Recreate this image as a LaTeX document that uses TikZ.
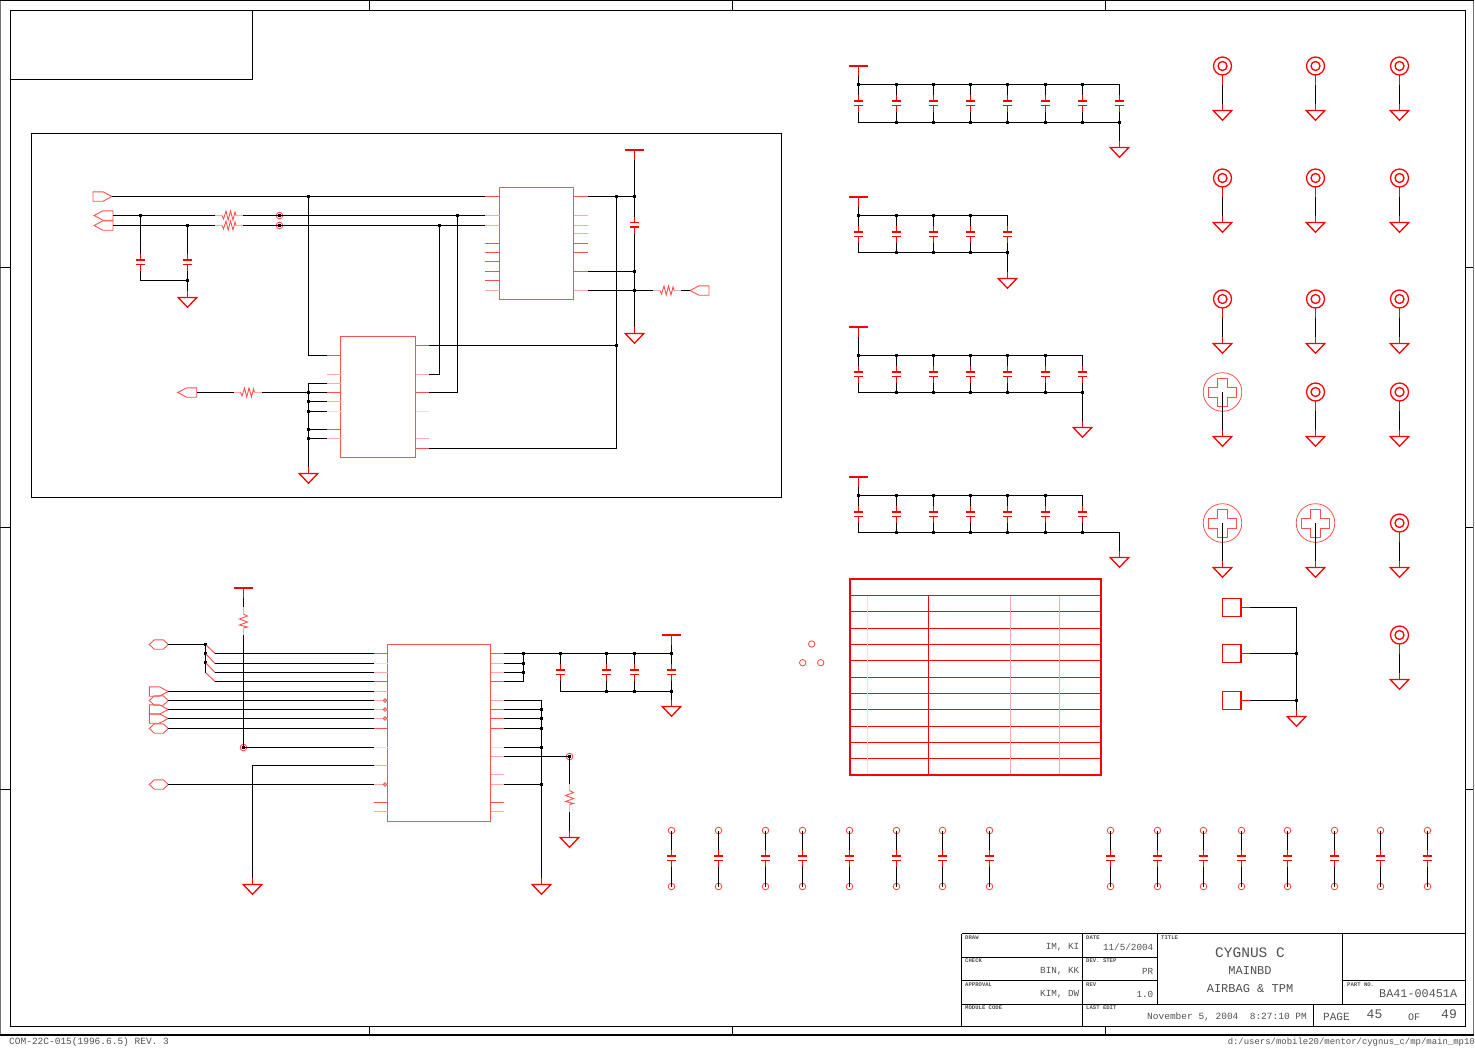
\documentclass[tikz,border=0pt]{standalone}
\usepackage{fontspec}
\setmonofont{Liberation Mono}
\definecolor{symred}{HTML}{FF0000}
\definecolor{pa}{HTML}{FF5050}
\definecolor{pb}{HTML}{FFA8A8}
\definecolor{pc}{HTML}{FFDCDC}
\definecolor{txt}{HTML}{505050}
\tikzset{
  wire/.style={black,line width=1pt},
  frameline/.style={black,line width=1pt},
  redw/.style={symred,line width=1pt},
  gsym/.style={symred,line width=1.3pt,line join=miter},
  plate/.style={symred,line width=1pt},
  plateb/.style={symred,line width=2pt},
  zig/.style={pa,line width=0.9pt},
  ic/.style={draw=pa,line width=1pt,inner sep=0pt,fill=none},
  portl/.style={pa,line width=0.9pt},
  lab/.style={font=\ttfamily\fontsize{#1}{#1}\selectfont,text=txt,inner sep=0pt},
  cell/.style={black,line width=0.8pt},
  tiny/.style={font=\ttfamily\bfseries\fontsize{5.6}{5.6}\selectfont,text=txt,inner sep=0pt,anchor=west},
  tblthin/.style={symred,line width=1pt},
}
\newcommand{\GndAt}[3]{\coordinate (#1) at (#2,#3-7);
  \draw[redw] (#2,#3-7)--(#2,#3);
  \draw[gsym] (#2-9.3,#3)--(#2+9.3,#3)--(#2,#3+9.8)--cycle;}
\newcommand{\PowAt}[3]{\coordinate (#1) at (#2,#3+10);
  \draw[plateb] (#2-9.5,#3)--(#2+9.5,#3);
  \draw[redw] (#2,#3)--(#2,#3+10);}
% capacitor, heavy plate on top
\newcommand{\CapV}[3]{\coordinate (#1-t) at (#2,#3-8.5); \coordinate (#1-b) at (#2,#3+8.5);
  \draw[redw] (#2,#3-8.5)--(#2,#3-2) (#2,#3+2.5)--(#2,#3+8.5);
  \draw[plateb] (#2-4.5,#3-2)--(#2+4.5,#3-2);
  \draw[plate] (#2-4.5,#3+2.5)--(#2+4.5,#3+2.5);}
% capacitor, heavy plate below
\newcommand{\CapVf}[3]{\coordinate (#1-t) at (#2,#3-8.5); \coordinate (#1-b) at (#2,#3+8.5);
  \draw[redw] (#2,#3-8.5)--(#2,#3-2) (#2,#3+2)--(#2,#3+8.5);
  \draw[plate] (#2-4.5,#3-2.5)--(#2+4.5,#3-2.5);
  \draw[plateb] (#2-4.5,#3+2)--(#2+4.5,#3+2);}
\newcommand{\ResH}[3]{\coordinate (#1-l) at (#2,#3); \coordinate (#1-r) at (#2+28,#3);
  \draw[pb,line width=1pt] (#2,#3)--(#2+7,#3) (#2+21,#3)--(#2+28,#3);
  \draw[zig] (#2+7,#3)--(#2+8.5,#3+3.5)--(#2+11,#3-4.5)--(#2+13.2,#3+4.5)--(#2+15.5,#3-4.5)--(#2+18,#3+4.5)--(#2+20,#3-3.5)--(#2+21,#3);}
\newcommand{\ResV}[3]{\coordinate (#1-t) at (#2,#3); \coordinate (#1-b) at (#2,#3+28);
  \draw[pb,line width=1pt] (#2,#3)--(#2,#3+7) (#2,#3+21)--(#2,#3+28);
  \draw[zig] (#2,#3+7)--(#2+4,#3+9)--(#2-4,#3+12)--(#2+4,#3+15)--(#2-4,#3+18)--(#2+4,#3+20)--(#2,#3+21);}
\newcommand{\Jn}[3]{\coordinate (#1) at (#2,#3); \fill[black] (#2-1.5,#3-1.5) rectangle (#2+1.5,#3+1.5);}
\newcommand{\RingAt}[3]{\coordinate (#1) at (#2,#3); \draw[pa,line width=0.9pt] (#2,#3) circle [radius=3.3pt];}
\newcommand{\PortR}[3]{\coordinate (#1-a) at (#2+19,#3); \coordinate (#1-b) at (#2,#3);
  \draw[portl] (#2,#3-4.7)--(#2+10,#3-4.7)--(#2+19,#3)--(#2+10,#3+4.7)--(#2,#3+4.7)--cycle;}
\newcommand{\PortL}[3]{\coordinate (#1-a) at (#2,#3); \coordinate (#1-b) at (#2+19,#3);
  \draw[portl] (#2,#3)--(#2+9,#3-4.7)--(#2+19,#3-4.7)--(#2+19,#3+4.7)--(#2+9,#3+4.7)--cycle;}
\newcommand{\PortH}[3]{\coordinate (#1-a) at (#2+19,#3); \coordinate (#1-b) at (#2,#3);
  \draw[portl] (#2,#3)--(#2+5,#3-4.7)--(#2+14,#3-4.7)--(#2+19,#3)--(#2+14,#3+4.7)--(#2+5,#3+4.7)--cycle;}
\newcommand{\HoleAt}[4]{\draw[symred,line width=1.3pt] (#2,#3) circle [radius=9pt] (#2,#3) circle [radius=4.5pt];
  \draw[redw] (#2,#3+9)--(#2,#3+19);
  \GndAt{#1g}{#2}{#4}
  \coordinate (#1s) at (#2,#3+19);
  \draw[wire] (#1s)--(#1g);}
\newcommand{\ScrewAt}[4]{\coordinate (#1c) at (#2,#3);
  \draw[pa,line width=0.8pt] (#2,#3) circle [radius=19.3pt];
  \draw[pa,line width=0.9pt] (#2-5,#3-14)--(#2+5,#3-14)--(#2+5,#3-5)--(#2+14,#3-5)--(#2+14,#3+5)--(#2+5,#3+5)--(#2+5,#3+14)--(#2-5,#3+14)--(#2-5,#3+5)--(#2-14,#3+5)--(#2-14,#3-5)--(#2-5,#3-5)--cycle;
  \GndAt{#1g}{#2}{#4}
  \draw[wire] (#1c)--(#1g);}
\begin{document}
\begin{tikzpicture}[x=1pt,y=-1pt]
\useasboundingbox (0,0) rectangle (1475,1047);
% ---------- sheet frame
\draw[frameline] (10.5,10.5) rectangle (1465.5,1026.5);
\draw[black!55,line width=1pt] (0.5,0.5)--(0.5,1035);
\draw[black!55,line width=1pt] (1473.5,0.5)--(1473.5,1035);
\draw[black,line width=1pt] (0,0.5)--(1474,0.5);
\draw[black,line width=2pt] (0,1035)--(1474,1035);
\foreach \x in {369.5,732.5,1105.5} \draw[frameline] (\x,0)--(\x,10) (\x,1026)--(\x,1035);
\foreach \y in {267.5,527.5,789.5} \draw[frameline] (0,\y)--(10,\y) (1465,\y)--(1473,\y);
\draw[frameline] (11,10.5)--(252.5,10.5)--(252.5,79.5)--(11,79.5);
\draw[frameline] (31.5,133.5) rectangle (781.5,497.5);
% ---------- U1
\node[ic,minimum width=74pt,minimum height=112pt] (U1) at (536.5,243.5) {};
\foreach \i/\y/\c in {1/196.5/pa,2/215.5/pb,3/225.5/pb,4/243.5/pa,5/252.5/pa,6/261.5/pa,7/271.5/pa,8/280.5/pa,9/290.5/pb}{
  \coordinate (u1l\i) at (485,\y); \draw[color=\c,line width=1pt] (485,\y)--(499.5,\y);}
\foreach \i/\y/\c in {1/196.5/pa,2/215.5/pb,3/225.5/pb,4/233.5/pb,5/243.5/pa,6/252.5/pa,7/271.5/pa,8/290.5/pb}{
  \coordinate (u1r\i) at (588,\y); \draw[color=\c,line width=1pt] (573.5,\y)--(588,\y);}
% ---------- U2
\node[ic,minimum width=75pt,minimum height=121pt] (U2) at (378,397) {};
\foreach \i/\y/\c in {1/355.5/pa,2/374.5/pb,3/383.5/pb,4/392.5/pa,5/401.5/pb,6/411.5/pc,7/429.5/pa,8/438.5/pb}{
  \coordinate (u2l\i) at (327,\y); \draw[color=\c,line width=1pt] (327,\y)--(340.5,\y);}
\foreach \i/\y/\c in {1/345.5/pa,2/374.5/pb,3/392.5/pa,4/411.5/pc,5/438.5/pb,6/448.5/pa}{
  \coordinate (u2r\i) at (429,\y); \draw[color=\c,line width=1pt] (415.5,\y)--(429,\y);}
% ---------- first circuit
\PortR{p1}{93}{196.5}
\PortL{p2}{94}{215.5}
\PortL{p3}{94}{225.5}
\ResH{r1}{215}{215.5}
\ResH{r2}{215}{225.5}
\CapV{c1}{140.5}{262}
\CapV{c2}{187.5}{262}
\GndAt{g1}{187.5}{297.5}
\RingAt{v1}{279.5}{215.5}
\RingAt{v2}{279.5}{225.5}
\Jn{j1a}{140.5}{215.5}
\Jn{j1b}{187.5}{225.5}
\Jn{j1f}{187.5}{280.5}
\Jn{j1e}{308.5}{196.5}
\Jn{j1g}{279.5}{215.5}
\Jn{j1h}{279.5}{225.5}
\draw[wire] (p1-a)--(u1l1);
\draw[wire] (p2-b)--(r1-l) (r1-r)--(u1l2);
\draw[wire] (p3-b)--(r2-l) (r2-r)--(u1l3);
\draw[wire] (j1a)--(c1-t) (c1-b)|-(j1f);
\draw[wire] (j1b)--(c2-t) (c2-b)--(j1f)--(g1);
\draw[wire] (j1e)|-(u2l1);
\Jn{j2a}{616.5}{196.5}
\Jn{j2b}{634.5}{196.5}
\Jn{j2c}{634.5}{271.5}
\Jn{j2d}{634.5}{290.5}
\Jn{j2e}{616.5}{345.5}
\coordinate (j2f) at (616.5,448.5);
\PowAt{pw1}{634.5}{150}
\CapVf{c3}{634.5}{225}
\GndAt{g2}{634.5}{333.5}
\ResH{r3}{653}{290.5}
\PortL{p4}{690}{290.5}
\draw[wire] (u1r1)--(j2a)--(j2b);
\draw[wire] (pw1)--(j2b)--(c3-t) (c3-b)--(j2c)--(j2d)--(g2);
\draw[wire] (u1r7)--(j2c);
\draw[wire] (u1r8)--(j2d)--(r3-l) (r3-r)--(p4-a);
\draw[wire] (j2a)--(j2e)--(j2f)--(u2r6);
\draw[wire] (u2r1)--(j2e);
\Jn{j3a}{439.5}{225.5}
\Jn{j3b}{457.5}{215.5}
\draw[wire] (j3a)|-(u2r2);
\draw[wire] (j3b)|-(u2r3);
\coordinate (j4a) at (308.5,383.5);
\Jn{j4b}{308.5}{392.5}
\Jn{j4c}{308.5}{401.5}
\Jn{j4d}{308.5}{411.5}
\Jn{j4e}{308.5}{429.5}
\Jn{j4f}{308.5}{438.5}
\GndAt{g3}{308.5}{473.5}
\PortL{p5}{177.7}{392.5}
\ResH{r4}{233.5}{392.5}
\draw[wire] (u2l3)--(j4a)--(g3);
\draw[wire] (p5-b)--(r4-l) (r4-r)--(u2l4);
\draw[wire] (j4c)--(u2l5) (j4d)--(u2l6) (j4e)--(u2l7) (j4f)--(u2l8);
% ---------- U3
\node[ic,minimum width=103pt,minimum height=177pt] (U3) at (439,733) {};
\foreach \i/\y/\c in {1/653.5/pa,2/663.5/pc,3/672.5/pb,4/681.5/pa,5/691.5/pb,6/700.5/pb,7/709.5/pb,8/718.5/pb,9/728.5/pa,10/747.5/pc,11/765.5/pb,12/784.5/pb,13/802.5/pa,14/811.5/pb}{
  \coordinate (u3l\i) at (374,\y); \draw[color=\c,line width=1pt] (374,\y)--(387.5,\y);}
\foreach \i/\y/\c in {1/653.5/pa,2/663.5/pb,3/672.5/pb,4/681.5/pa,5/700.5/pb,6/709.5/pa,7/718.5/pa,8/728.5/pa,9/747.5/pc,10/756.5/pb,11/774.5/pb,12/784.5/pb,13/802.5/pa,14/811.5/pb}{
  \coordinate (u3r\i) at (504,\y); \draw[color=\c,line width=1pt] (490.5,\y)--(504,\y);}
\foreach \y in {700.5,709.5,718.5,784.5} \draw[pa,line width=0.8pt] (385,\y) circle [radius=1.8pt];
\PortH{p6}{149.3}{644.5}
\PortR{p7}{149.3}{691.5}
\PortH{p8}{149.3}{700.5}
\PortR{p9}{149.3}{709.5}
\PortR{p10}{149.3}{718.5}
\PortH{p11}{149.3}{728.5}
\PortH{p12}{149.3}{784.5}
\Jn{j5a}{205.5}{644.5}
\Jn{j5b}{205.5}{653.5}
\Jn{j5c}{205.5}{662.5}
\coordinate (j5d) at (205.5,672.5);
\foreach \n/\y in {1/653.5,2/663.5,3/672.5,4/681.5} \coordinate (k\n) at (215,\y);
\draw[pa,line width=1pt] (j5a)--(k1) (j5b)--(k2) (j5c)--(k3) (j5d)--(k4);
\draw[wire] (p6-a)--(j5a)--(j5b)--(j5c)--(j5d);
\draw[wire] (k1)--(u3l1) (k2)--(u3l2) (k3)--(u3l3) (k4)--(u3l4);
\draw[wire] (p7-a)--(u3l5) (p8-a)--(u3l6) (p9-a)--(u3l7) (p10-a)--(u3l8) (p11-a)--(u3l9);
\PowAt{pw2}{243.5}{588}
\ResV{r5}{243.5}{607}
\RingAt{v3}{243.5}{747.5}
\Jn{j6a}{243.5}{747.5}
\draw[wire] (pw2)--(r5-t) (r5-b)--(j6a)--(u3l10);
\GndAt{g4}{252.5}{884.5}
\draw[wire] (u3l11)-|(g4);
\draw[wire] (p12-a)--(u3l12);
% right side of U3
\Jn{j7a}{523.5}{653.5}
\Jn{j7b}{523.5}{663.5}
\Jn{j7c}{523.5}{672.5}
\coordinate (j7d) at (523.5,681.5);
\draw[wire] (u3r2)--(j7b) (u3r3)--(j7c) (u3r4)--(j7d)--(j7a);
\foreach \n/\x in {1/560.5,2/606.5,3/634.5,4/671.5}{
  \Jn{j8t\n}{\x}{653.5}
  \CapV{c4\n}{\x}{672}
  \draw[wire] (j8t\n)--(c4\n-t);
}
\foreach \n/\x in {2/606.5,3/634.5,4/671.5} \Jn{j8b\n}{\x}{691.5};
\coordinate (j8b1) at (560.5,691.5);
\draw[wire] (u3r1)--(j7a)--(j8t1)--(j8t2)--(j8t3)--(j8t4);
\foreach \n in {1,2,3,4} \draw[wire] (c4\n-b)--(j8b\n);
\draw[wire] (j8b1)--(j8b2)--(j8b3)--(j8b4);
\PowAt{pw3}{671.5}{634.5}
\draw[wire] (pw3)--(j8t4);
\GndAt{g5}{671.5}{706.5}
\draw[wire] (j8b4)--(g5);
\coordinate (j9a) at (541.5,700.5);
\foreach \n/\y in {b/709.5,c/718.5,d/728.5,e/747.5,f/784.5} \Jn{j9\n}{541.5}{\y};
\GndAt{g6}{541.5}{884.5}
\draw[wire] (u3r5)--(j9a)--(g6);
\draw[wire] (u3r6)--(j9b) (u3r7)--(j9c) (u3r8)--(j9d) (u3r9)--(j9e) (u3r12)--(j9f);
\RingAt{v4}{569.5}{756.5}
\Jn{j9g}{569.5}{756.5}
\ResV{r6}{569.5}{783.5}
\GndAt{g7}{569.5}{837.5}
\draw[wire] (u3r10)--(j9g)--(r6-t) (r6-b)--(g7);
% ---------- capacitor banks
\PowAt{pw4}{858.5}{66}
\foreach \n/\x in {1/858.5,2/896.5,3/933.5,4/970.5,5/1007.5,6/1045.5,7/1082.5,8/1119.5}{
  \coordinate (a\n) at (\x,84.5); \coordinate (b\n) at (\x,122.5);
  \CapV{ca\n}{\x}{103}
  \draw[wire] (a\n)--(ca\n-t) (ca\n-b)--(b\n);}
\foreach \p in {a1,a2,a3,a4,a5,a6,a7,b2,b3,b4,b5,b6,b7,b8} \fill[black] (\p) +(-1.5,-1.5) rectangle +(1.5,1.5);
\draw[wire] (pw4)--(a1)--(a8) (b1)--(b8);
\GndAt{g8}{1119.5}{147.5}
\draw[wire] (b8)--(g8);
\PowAt{pw5}{858.5}{197}
\foreach \n/\x in {1/858.5,2/896.5,3/933.5,4/970.5,5/1007.5}{
  \coordinate (d\n) at (\x,215.5); \coordinate (e\n) at (\x,252.5);
  \CapV{cb\n}{\x}{234}
  \draw[wire] (d\n)--(cb\n-t) (cb\n-b)--(e\n);}
\foreach \p in {d1,d2,d3,d4,e2,e3,e4,e5} \fill[black] (\p) +(-1.5,-1.5) rectangle +(1.5,1.5);
\draw[wire] (pw5)--(d1)--(d5) (e1)--(e5);
\GndAt{g9}{1007.5}{278.5}
\draw[wire] (e5)--(g9);
\PowAt{pw6}{858.5}{327}
\foreach \n/\x in {1/858.5,2/896.5,3/933.5,4/970.5,5/1007.5,6/1045.5,7/1082.5}{
  \coordinate (f\n) at (\x,355.5); \coordinate (h\n) at (\x,392.5);
  \CapV{cc\n}{\x}{374}
  \draw[wire] (f\n)--(cc\n-t) (cc\n-b)--(h\n);}
\foreach \p in {f1,f2,f3,f4,f5,f6,h2,h3,h4,h5,h6,h7} \fill[black] (\p) +(-1.5,-1.5) rectangle +(1.5,1.5);
\draw[wire] (pw6)--(f1)--(f7) (h1)--(h7);
\GndAt{g10}{1082.5}{427.5}
\draw[wire] (h7)--(g10);
\PowAt{pw7}{858.5}{477}
\foreach \n/\x in {1/858.5,2/896.5,3/933.5,4/970.5,5/1007.5,6/1045.5,7/1082.5}{
  \coordinate (m\n) at (\x,495.5); \coordinate (q\n) at (\x,532.5);
  \CapV{cd\n}{\x}{514}
  \draw[wire] (m\n)--(cd\n-t) (cd\n-b)--(q\n);}
\foreach \p in {m1,m2,m3,m4,m5,m6,q2,q3,q4,q5,q6,q7} \fill[black] (\p) +(-1.5,-1.5) rectangle +(1.5,1.5);
\coordinate (q8) at (1119.5,532.5);
\draw[wire] (pw7)--(m1)--(m7) (q1)--(q7)--(q8);
\GndAt{g11}{1119.5}{557.5}
\draw[wire] (q8)--(g11);
% ---------- standoffs
\foreach \n/\x/\y/\t in {a/1222.5/66/110.5,b/1315.5/66/110.5,c/1399.5/66/110.5,
  d/1222.5/178/222.5,e/1315.5/178/222.5,f/1399.5/178/222.5,
  k/1222.5/299/343.5,m/1315.5/299/343.5,q/1399.5/299/343.5,
  s/1315.5/392/436.5,u/1399.5/392/436.5,v/1399.5/523/567.5,w/1399.5/635/679.5}{
  \HoleAt{h\n}{\x}{\y}{\t}
}
\ScrewAt{sa}{1222.5}{392}{436.5}
\ScrewAt{sb}{1222.5}{523}{567.5}
\ScrewAt{sc}{1315.5}{523}{567.5}
% ---------- test pads
\foreach \n/\y in {1/607.5,2/653.5,3/700.5}{
  \node[draw=symred,line width=1.3pt,minimum size=18.5pt,inner sep=0pt] (pad\n) at (1231.7,\y) {};
  \coordinate (pe\n) at (1250,\y);
  \draw[redw] (1241,\y)--(1250,\y);
}
\Jn{t2}{1296.5}{653.5}
\Jn{t3}{1296.5}{700.5}
\coordinate (t1) at (1296.5,607.5);
\GndAt{g12}{1296.5}{716.5}
\draw[wire] (pe1)--(t1)--(t2)--(t3)--(g12) (pe2)--(t2) (pe3)--(t3);
% ---------- three small circles
\foreach \x/\y in {811.7/644,802.7/662.7,820.7/662.7} \draw[pa,line width=0.9pt] (\x,\y) circle [radius=3.2pt];
% ---------- table
\foreach \y in {595.5,611.5,628.5,644.5,660.5,677.5,693.5,709.5,726.5,742.5,758.5} \draw[tblthin] (849.3,\y)--(1101,\y);
\draw[pc,line width=1.3pt] (867.5,595.5)--(867.5,775);
\draw[symred,line width=1pt] (928.5,595.5)--(928.5,775);
\draw[pb,line width=1.2pt] (1010.5,595.5)--(1010.5,775) (1059.5,595.5)--(1059.5,775);
\draw[symred,line width=2pt] (850,579)--(1101,579)--(1101,775)--(850,775)--cycle;
% ---------- bottom capacitors
\foreach \n/\x in {1/671.5,2/718.5,3/765.5,4/802.5,5/849.5,6/896.5,7/942.5,8/989.5,9/1110.5,10/1157.5,11/1203.5,12/1241.5,13/1287.5,14/1334.5,15/1380.5,16/1427.5}{
  \RingAt{ru\n}{\x}{830.5}
  \RingAt{rd\n}{\x}{886.5}
  \CapV{cx\n}{\x}{858}
  \draw[wire] (ru\n)--(cx\n-t) (cx\n-b)--(rd\n);
}
% ---------- title block
\draw[cell] (961.5,933.5)--(1465,933.5);
\draw[cell] (961.5,933.5)--(961.5,1026);
\draw[cell] (1082.5,933.5)--(1082.5,1026);
\draw[cell] (1157.5,933.5)--(1157.5,1004.5);
\draw[cell] (1342.5,933.5)--(1342.5,1004.5);
\draw[cell] (961.5,957.5)--(1157.5,957.5);
\draw[cell] (961.5,980.5)--(1157.5,980.5);
\draw[cell] (1342.5,980.5)--(1465,980.5);
\draw[cell] (961.5,1004.5)--(1465,1004.5);
\draw[cell] (1313.5,1004.5)--(1313.5,1026);
\node[tiny] (tDraw) at (965,938) {DRAW};
\node[tiny] (tCheck) at (965,961) {CHECK};
\node[tiny] (tAppr) at (965,985) {APPROVAL};
\node[tiny] (tMod) at (965,1008) {MODULE CODE};
\node[tiny] (tDate) at (1086,938) {DATE};
\node[tiny] (tDev) at (1086,961) {DEV. STEP};
\node[tiny] (tRev) at (1086,985) {REV};
\node[tiny] (tLast) at (1086,1008) {LAST EDIT};
\node[tiny] (tTitle) at (1161,938) {TITLE};
\node[tiny] (tPart) at (1347,985) {PART NO.};
\node[lab=9.3,anchor=east] (vIm) at (1079.5,947) {IM, KI};
\node[lab=9.3,anchor=east] (vBin) at (1079.5,971) {BIN, KK};
\node[lab=9.3,anchor=east] (vKim) at (1079.5,994) {KIM, DW};
\node[lab=9.3,anchor=east] (vDate) at (1153.5,947) {11/5/2004};
\node[lab=9.3,anchor=east] (vPr) at (1153.5,971) {PR};
\node[lab=9.3,anchor=east] (vRev) at (1153.5,994) {1.0};
\node[lab=14.5] (vCyg) at (1250,953) {CYGNUS C};
\node[lab=12] (vMain) at (1250,971) {MAINBD};
\node[lab=12] (vAir) at (1250,989) {AIRBAG \& TPM};
\node[lab=11.8,anchor=west] (vPart) at (1379,994) {BA41-00451A};
\node[lab=9.5,anchor=west] (vEdit) at (1147,1017) {November 5, 2004\ \ 8:27:10 PM};
\node[lab=11,anchor=west] (vPage) at (1323,1017) {PAGE};
\node[lab=13,anchor=west] (vP) at (1366.5,1014.5) {45};
\node[lab=10,anchor=west] (vOf) at (1408,1017) {OF};
\node[lab=13,anchor=west] (vN) at (1441,1014.5) {49};
\node[lab=9.5,anchor=west] (vCom) at (9,1042) {COM-22C-015(1996.6.5) REV. 3};
\node[lab=8.95,anchor=east] (vPath) at (1475,1042) {d:/users/mobile20/mentor/cygnus\_c/mp/main\_mp10};
\end{tikzpicture}
\end{document}
